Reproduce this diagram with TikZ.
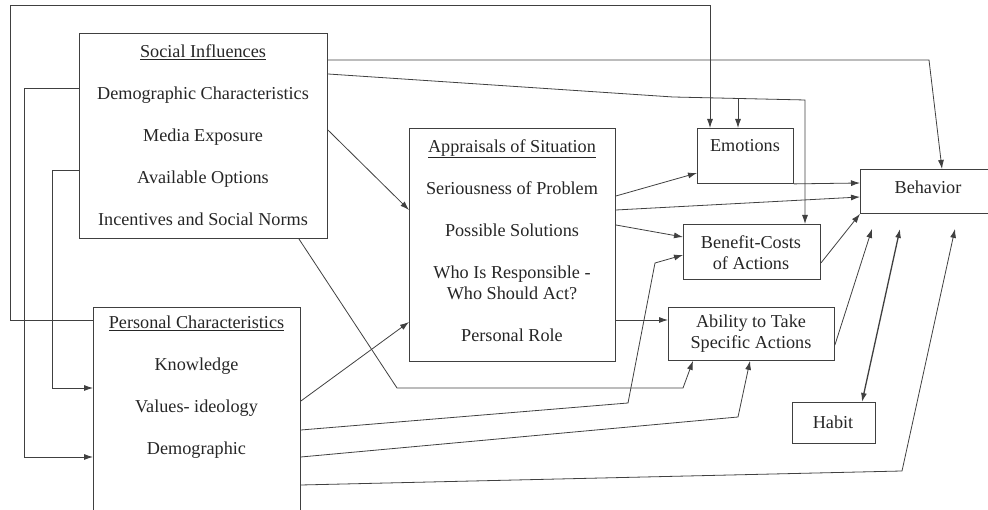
\documentclass[tikz,border=0pt]{standalone}
\usepackage{fontspec}
\setmainfont{Liberation Serif}
\usetikzlibrary{arrows.meta}
\tikzset{
  box/.style={draw=black!75, line width=0.9pt, anchor=north west, inner sep=0pt},
  txt/.style={align=center, text=black!85, font=\fontsize{18.2}{42}\selectfont},
  txtb/.style={align=center, text=black!85, font=\fontsize{18.2}{21}\selectfont},
  link/.style={draw=black!75, line width=0.8pt, ->},
}
\begin{document}
\begin{tikzpicture}[x=1pt,y=1pt,>={Latex[length=9pt,width=6pt]}]
  \path[use as bounding box, clip] (0,0) rectangle (988,510);
  % boxes
  \node[box, minimum width=248, minimum height=205] at (79,477) (soc) {};
  \node[box, minimum width=207, minimum height=210] at (93,203) (pers) {};
  \node[box, minimum width=206, minimum height=233] at (409,382) (appr) {};
  \node[box, minimum width=96, minimum height=55] at (697,382) (emo) {};
  \node[box, minimum width=130, minimum height=44] at (860,341) (beh) {};
  \node[box, minimum width=137, minimum height=55] at (683,286) (ben) {};
  \node[box, minimum width=166, minimum height=53] at (668,203) (abil) {};
  \node[box, minimum width=83, minimum height=41] at (792,108) (habit) {};
  % texts
  \node[txt] at (203,375) (socT) {\underline{Social Influences}\\Demographic Characteristics\\Media Exposure\\Available Options\\Incentives and Social Norms};
  \node[txt] at (196.5,122.5) (persT) {\underline{Personal Characteristics}\\Knowledge\\Values- ideology\\Demographic};
  \node[txt] at (512,269.5) (apprT) {\underline{Appraisals of Situation}\\Seriousness of Problem\\Possible Solutions\\Who Is Responsible -\\[-21pt]Who Should Act?\\Personal Role};
  \node[txt] at (745,364) (emoT) {Emotions};
  \node[txt] at (928,323) (behT) {Behavior};
  \node[txtb] at (751,257.5) (benT) {Benefit-Costs\\of Actions};
  \node[txtb] at (751,176) (abilT) {Ability to Take\\Specific Actions};
  \node[txt] at (833,88) (habitT) {Habit};
  % links from the left side
  \path[link] ([yshift=-13]pers.north west) -| (10,505) -| ([xshift=13]emo.north west);
  \path[link] ([yshift=-55]soc.north west) -- (24,422) |- ([yshift=-150]pers.north west);
  \path[link] ([yshift=-137]soc.north west) -- (52,340) |- ([yshift=-81]pers.north west);
  % links from social influences
  \path[link] ([yshift=-27]soc.north east) -- (929,450) -- ([xshift=82]beh.north west);
  \coordinate (fork) at (738,411.5);
  \path[link] ([yshift=-41]soc.north east) -- (673,413) -- (805,410) -- ([xshift=122]ben.north west);
  \path[link] (fork) -- ([xshift=41]emo.north west);
  \path[link] ([yshift=-97]soc.north east) -- ([yshift=-82]appr.north west);
  \path[link] ([xshift=-29]soc.south east) -- (397,122) -- (683,122) -- ([xshift=25]abil.south west);
  % links from personal characteristics
  \path[link] ([yshift=-94]pers.north east) -- ([yshift=-194]appr.north west);
  \path[link] ([yshift=-123]pers.north east) -- (628,107) -- (655,247) -- ([yshift=-31]ben.north west);
  \path[link] ([yshift=-150]pers.north east) -- (738,93) -- ([xshift=82]abil.south west);
  \path[link] ([yshift=-178]pers.north east) -- (902,39) -- ([xshift=95,yshift=-15]beh.south west);
  % links from appraisals
  \path[link] ([yshift=-68]appr.north east) -- ([yshift=-45]emo.north west);
  \path[link] ([yshift=-82]appr.north east) -- ([yshift=-28]beh.north west);
  \path[link] ([yshift=-97]appr.north east) -- ([yshift=-13]ben.north west);
  \path[link] ([yshift=-192]appr.north east) -- ([yshift=-13]abil.north west);
  % links into behavior
  \path[link] (emo.south east) -- ([yshift=-14]beh.north west);
  \path[link] ([yshift=-39]ben.north east) -- (beh.south west);
  \path[link] ([yshift=-38]abil.north east) -- ([xshift=12,yshift=-15]beh.south west);
  \path[link, <->, line width=1.3pt] ([xshift=70]habit.north west) -- ([xshift=40,yshift=-15]beh.south west);
\end{tikzpicture}
\end{document}
